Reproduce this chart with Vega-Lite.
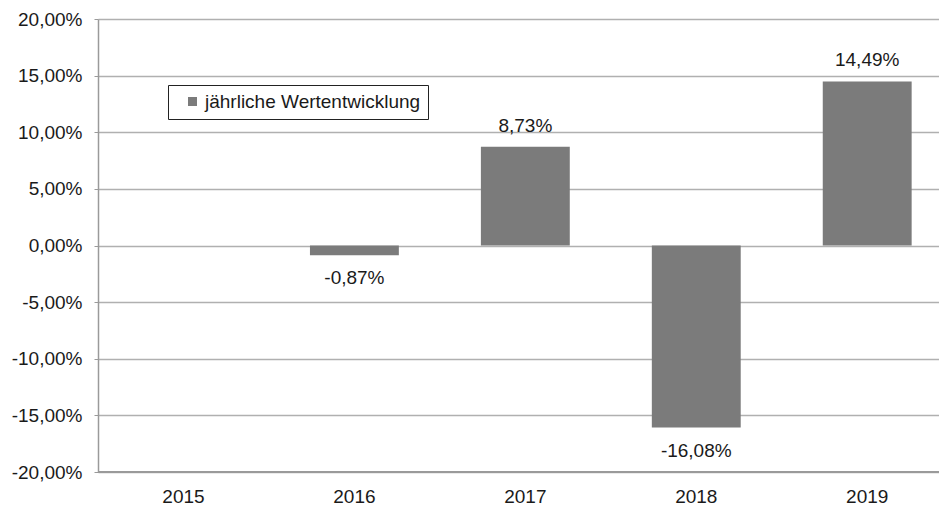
{
  "$schema": "https://vega.github.io/schema/vega-lite/v6.json",
  "autosize": {"type": "none"},
  "width": 841,
  "height": 453,
  "padding": {"left": 98, "top": 19, "right": 0, "bottom": 34},
  "background": "white",
  "config": {
    "locale": {"number": {"decimal": ",", "thousands": ".", "grouping": [3], "currency": ["", " €"], "minus": "-"}},
    "font": "Liberation Sans",
    "view": {"stroke": null},
    "axis": {"labelFont": "Liberation Sans", "labelColor": "#1a1a1a", "domainColor": "#9a9a9a", "tickColor": "#9a9a9a", "gridColor": "#b0b0b0", "gridWidth": 1.5, "domainWidth": 1.5}
  },
  "data": {
    "values": [
      {"jahr": "2015", "wert": null},
      {"jahr": "2016", "wert": -0.0087},
      {"jahr": "2017", "wert": 0.0873},
      {"jahr": "2018", "wert": -0.1608},
      {"jahr": "2019", "wert": 0.1449}
    ]
  },
  "encoding": {
    "x": {
      "field": "jahr", "type": "ordinal",
      "scale": {"domain": ["2015", "2016", "2017", "2018", "2019"], "paddingInner": 0.48, "paddingOuter": 0.2, "align": 0.6},
      "axis": {"title": null, "labelAngle": 0, "ticks": false, "domain": false, "labelFontSize": 19, "labelPadding": 15}
    },
    "y": {
      "field": "wert", "type": "quantitative",
      "scale": {"domain": [-0.2, 0.2], "nice": false},
      "axis": {"title": null, "format": ".2%", "values": [-0.2, -0.15, -0.1, -0.05, 0, 0.05, 0.1, 0.15, 0.2], "labelFontSize": 19, "tickSize": 4, "labelPadding": 12, "grid": true}
    }
  },
  "layer": [
    {
      "mark": {"type": "rule", "color": "#9a9a9a", "strokeWidth": 1.5},
      "encoding": {"x": {"value": 0}, "x2": {"value": 841}, "y": {"datum": -0.2}}
    },
    {
      "mark": {"type": "bar", "color": "#7b7b7b"},
      "encoding": {
        "color": {"datum": "jährliche Wertentwicklung", "type": "nominal", "scale": {"range": ["#7b7b7b"]},
          "legend": {"title": null, "orient": "none", "legendX": 70, "legendY": 66, "strokeColor": "#222", "fillColor": "white", "padding": 7, "symbolType": "square", "symbolSize": 81, "labelFontSize": 19, "labelLimit": 400, "labelColor": "#1a1a1a", "labelFont": "Liberation Sans", "symbolOffset": 8, "labelOffset": 3}}
      }
    },
    {
      "transform": [{"filter": "datum.wert > 0"}],
      "mark": {"type": "text", "baseline": "alphabetic", "dy": -15, "fontSize": 19, "color": "#1a1a1a"},
      "encoding": {"text": {"field": "wert", "format": ".2%"}}
    },
    {
      "transform": [{"filter": "datum.wert < 0"}],
      "mark": {"type": "text", "baseline": "alphabetic", "dy": 29, "fontSize": 19, "color": "#1a1a1a"},
      "encoding": {"text": {"field": "wert", "format": ".2%"}}
    }
  ]
}
